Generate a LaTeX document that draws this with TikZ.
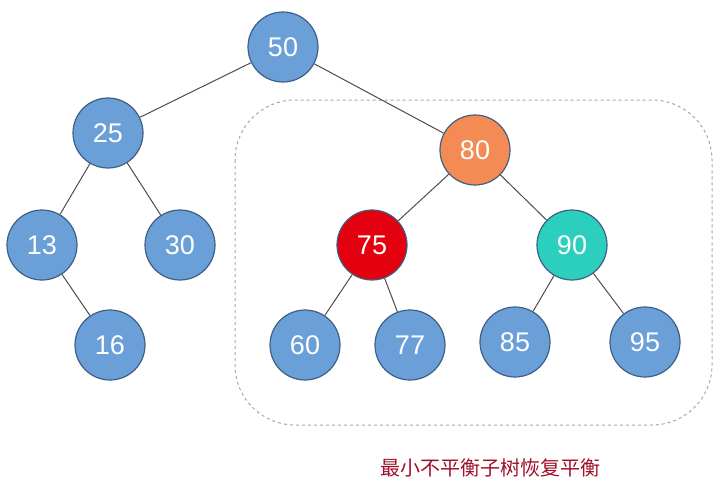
\documentclass[tikz,border=0pt]{standalone}
\usepackage{fontspec}
\setmainfont{Liberation Sans}
\newfontfamily\cjk{Noto Sans CJK SC}
\definecolor{nblue}{HTML}{6A9FD8}
\definecolor{nedge}{HTML}{3E5F86}
\definecolor{norange}{HTML}{F48B55}
\definecolor{nred}{HTML}{E3000F}
\definecolor{nteal}{HTML}{2CCFBE}
\definecolor{cap}{HTML}{A0102A}
\begin{document}
\begin{tikzpicture}[x=1pt,y=-1pt,
  tn/.style={circle,draw=nedge,line width=1.2pt,fill=nblue,minimum size=70pt,inner sep=0pt,text=white,font=\fontsize{27}{27}\selectfont},
  ed/.style={draw=black!70,line width=1pt}]
\useasboundingbox (0,0) rectangle (719,490);
\draw[dashed,gray!70,line width=1pt,rounded corners=60pt] (235,100) rectangle (712,425);
\node[tn] (n50) at (283,47) {50};
\node[tn] (n25) at (108,133) {25};
\node[tn,fill=norange] (n80) at (475,150) {80};
\node[tn] (n13) at (42,245) {13};
\node[tn] (n30) at (180,245) {30};
\node[tn,fill=nred] (n75) at (372,245) {75};
\node[tn,fill=nteal] (n90) at (572,245) {90};
\node[tn] (n16) at (110,345) {16};
\node[tn] (n60) at (305,345) {60};
\node[tn] (n77) at (410,345) {77};
\node[tn] (n85) at (515,342) {85};
\node[tn] (n95) at (645,342) {95};
\foreach \a/\b in {n50/n25,n50/n80,n25/n13,n25/n30,n13/n16,n80/n75,n80/n90,n75/n60,n75/n77,n90/n85,n90/n95}
  \path[ed] (\a) -- (\b);
\node[text=cap,font=\cjk\fontsize{20}{20}\selectfont] (t) at (490,468) {最小不平衡子树恢复平衡};
\end{tikzpicture}
\end{document}
